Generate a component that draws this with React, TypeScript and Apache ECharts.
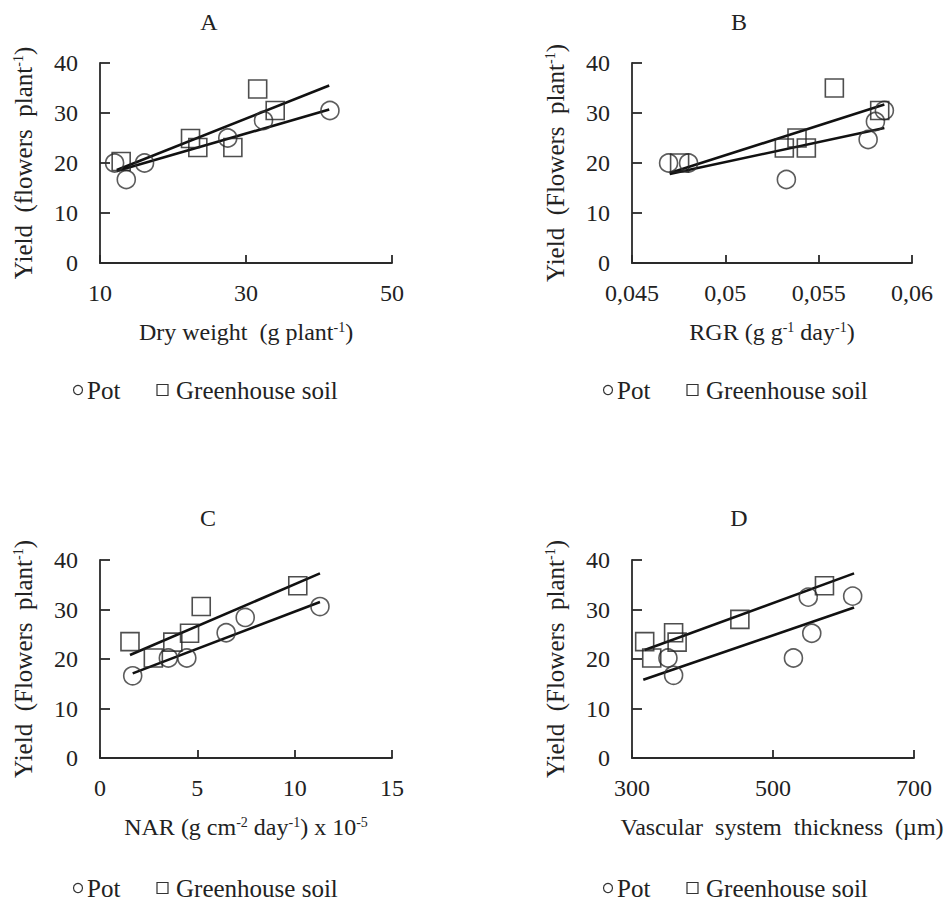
import React, { useEffect, useRef } from "react";
import * as echarts from "echarts";

// ---- Data ----
// Panel A: Dry weight (g plant-1)
const potA_x = [12.0, 13.6, 16.1, 27.5, 32.4, 41.5];
const potA_y = [20, 16.7, 20, 25, 28.5, 30.5];
const ghA_x = [12.9, 22.4, 23.4, 28.2, 31.6, 34.0];
const ghA_y = [20.3, 24.9, 23.1, 23.1, 34.8, 30.5];
const potA_trend = [[12.3, 18.4], [41.4, 30.7]];
const ghA_trend = [[12.3, 18.6], [41.4, 35.5]];

// Panel B: RGR (g g-1 day-1)
const potB_x = [0.04696, 0.04803, 0.05327, 0.05765, 0.05804, 0.05852];
const potB_y = [20, 20, 16.7, 24.7, 28.3, 30.5];
const ghB_x = [0.04755, 0.05316, 0.05384, 0.05434, 0.05584, 0.05827];
const ghB_y = [20, 23, 25, 23, 35, 30.5];
const potB_trend = [[0.04702, 17.8], [0.05852, 27]];
const ghB_trend = [[0.04702, 18], [0.05852, 31.7]];

// Panel C: NAR (g cm-2 day-1) x 10-5
const potC_x = [1.68, 3.51, 4.46, 6.48, 7.46, 11.3];
const potC_y = [16.6, 20.2, 20.2, 25.3, 28.4, 30.6];
const ghC_x = [1.54, 2.74, 3.74, 4.6, 5.2, 10.16];
const ghC_y = [23.5, 20.2, 23.4, 25.2, 30.6, 34.8];
const potC_trend = [[1.68, 17.1], [11.3, 31.5]];
const ghC_trend = [[1.54, 20.8], [11.3, 37.3]];

// Panel D: Vascular system thickness (µm)
const potD_x = [351, 359, 529, 550, 555, 613];
const potD_y = [20.2, 16.7, 20.2, 32.5, 25.2, 32.7];
const ghD_x = [318, 328, 359, 364, 453, 573];
const ghD_y = [23.5, 20.2, 25.3, 23.4, 28, 34.8];
const potD_trend = [[316, 15.8], [615, 30.4]];
const ghD_trend = [[318, 21.8], [615, 37.3]];

// Axis ranges / tick labels
const xRanges = [
  { min: 10, max: 50, interval: 20 },
  { min: 0.045, max: 0.06, interval: 0.005 },
  { min: 0, max: 15, interval: 5 },
  { min: 300, max: 700, interval: 200 },
];
const yRange = { min: 0, max: 40, interval: 10 };

const panelTitles = ["A", "B", "C", "D"];
const xNames = [
  "Dry weight  (g plant{sup|-1})",
  "RGR (g g{sup|-1} day{sup|-1})",
  "NAR (g cm{sup|-2} day{sup|-1}) x 10{sup|-5}",
  "Vascular  system  thickness  (µm)",
];
const yNames = [
  "Yield  (flowers  plant{sup|-1})",
  "Yield  (Flowers  plant{sup|-1})",
  "Yield  (Flowers  plant{sup|-1})",
  "Yield  (Flowers  plant{sup|-1})",
];
const legendPot = "Pot";
const legendGh = "Greenhouse soil";

const zip = (xs: number[], ys: number[]) => xs.map((x, i) => [x, ys[i]]);

const FONT = "Liberation Serif";
const INK = "#222";

export default function App() {
  const ref = useRef<HTMLDivElement>(null);

  useEffect(() => {
    if (!ref.current) return;
    const chart = echarts.init(ref.current, undefined, { renderer: "svg" });

    const grids = [
      { left: 100, top: 63, width: 292, height: 200 },
      { left: 632, top: 63, width: 280, height: 200 },
      { left: 100, top: 560, width: 292, height: 198 },
      { left: 632, top: 560, width: 282, height: 198 },
    ];

    const pots = [
      zip(potA_x, potA_y),
      zip(potB_x, potB_y),
      zip(potC_x, potC_y),
      zip(potD_x, potD_y),
    ];
    const ghs = [
      zip(ghA_x, ghA_y),
      zip(ghB_x, ghB_y),
      zip(ghC_x, ghC_y),
      zip(ghD_x, ghD_y),
    ];
    const potTrends = [potA_trend, potB_trend, potC_trend, potD_trend];
    const ghTrends = [ghA_trend, ghB_trend, ghC_trend, ghD_trend];

    const rich = {
      sup: {
        fontSize: 14,
        fontFamily: FONT,
        color: INK,
        verticalAlign: "top",
        padding: [0, 0, 10, 0],
      },
    };

    const axisLine = { show: true, lineStyle: { color: "#2a2a2a", width: 1.8 } };
    const namePad = [
      [0, 0, 0, 0],
      [0, 0, 0, 0],
      [0, 0, 0, 0],
      [0, 0, 0, 18],
    ];

    const xAxes = xRanges.map((r, i) => ({
      type: "value",
      gridIndex: i,
      min: r.min,
      max: r.max,
      interval: r.interval,
      axisLine,
      axisTick: { show: true, inside: true, length: 8, lineStyle: { color: "#2a2a2a", width: 1.8 } },
      splitLine: { show: false },
      axisLabel: {
        color: INK,
        fontFamily: FONT,
        fontSize: 24,
        margin: 18,
        formatter:
          i === 1
            ? (v: number) => String(parseFloat(v.toFixed(4))).replace(".", ",")
            : (v: number) => String(v),
      },
      name: xNames[i],
      nameLocation: "middle",
      nameGap: 57,
      nameTextStyle: { color: INK, fontFamily: FONT, fontSize: 24, rich, padding: namePad[i] },
    }));

    const yAxes = grids.map((_, i) => ({
      type: "value",
      gridIndex: i,
      min: yRange.min,
      max: yRange.max,
      interval: yRange.interval,
      axisLine,
      axisTick: { show: true, inside: true, length: 10, lineStyle: { color: "#2a2a2a", width: 1.8 } },
      splitLine: { show: false },
      axisLabel: { color: INK, fontFamily: FONT, fontSize: 24, margin: 22 },
      name: yNames[i],
      nameLocation: "middle",
      nameGap: 64,
      nameTextStyle: { color: INK, fontFamily: FONT, fontSize: 25, rich },
    }));

    const series: any[] = [];
    for (let i = 0; i < 4; i++) {
      series.push({
        type: "line",
        xAxisIndex: i,
        yAxisIndex: i,
        data: ghTrends[i],
        symbol: "none",
        lineStyle: { color: "#111", width: 2.6 },
        z: 2,
      });
      series.push({
        type: "line",
        xAxisIndex: i,
        yAxisIndex: i,
        data: potTrends[i],
        symbol: "none",
        lineStyle: { color: "#111", width: 2.6 },
        z: 2,
      });
      series.push({
        type: "scatter",
        xAxisIndex: i,
        yAxisIndex: i,
        data: pots[i],
        symbol: "circle",
        symbolSize: 18,
        itemStyle: { color: "transparent", borderColor: "#333", borderWidth: 1.6 },
        z: 3,
      });
      series.push({
        type: "scatter",
        xAxisIndex: i,
        yAxisIndex: i,
        data: ghs[i],
        symbol: "rect",
        symbolSize: 18,
        itemStyle: { color: "transparent", borderColor: "#222", borderWidth: 1.6 },
        z: 3,
      });
    }

    const titlePos = [
      [209, 22],
      [739, 22],
      [208, 518],
      [739, 518],
    ];
    const legendPos = [
      [78, 390],
      [608, 390],
      [78, 888],
      [608, 888],
    ];

    const graphic: any[] = [];
    panelTitles.forEach((t, i) => {
      graphic.push({
        type: "text",
        x: titlePos[i][0],
        y: titlePos[i][1],
        style: {
          text: t,
          fill: INK,
          fontFamily: FONT,
          fontSize: 24,
          align: "center",
          verticalAlign: "middle",
        },
      });
    });
    legendPos.forEach(([cx, cy]) => {
      graphic.push({
        type: "circle",
        shape: { cx, cy, r: 4.5 },
        style: { fill: "none", stroke: "#333", lineWidth: 1.2 },
      });
      graphic.push({
        type: "text",
        x: cx + 9,
        y: cy,
        style: {
          text: legendPot,
          fill: INK,
          fontFamily: FONT,
          fontSize: 25,
          align: "left",
          verticalAlign: "middle",
        },
      });
      graphic.push({
        type: "rect",
        shape: { x: cx + 79, y: cy - 5.5, width: 11, height: 11 },
        style: { fill: "none", stroke: "#333", lineWidth: 1.2 },
      });
      graphic.push({
        type: "text",
        x: cx + 98,
        y: cy,
        style: {
          text: legendGh,
          fill: INK,
          fontFamily: FONT,
          fontSize: 25,
          align: "left",
          verticalAlign: "middle",
        },
      });
    });

    chart.setOption({
      animation: false,
      backgroundColor: "#ffffff",
      textStyle: { fontFamily: FONT },
      grid: grids,
      xAxis: xAxes,
      yAxis: yAxes,
      series,
      graphic,
    });

    return () => chart.dispose();
  }, []);

  return (
    <div
      ref={ref}
      style={{ position: "fixed", left: 0, top: 0, width: 952, height: 903, background: "#fff" }}
    />
  );
}
